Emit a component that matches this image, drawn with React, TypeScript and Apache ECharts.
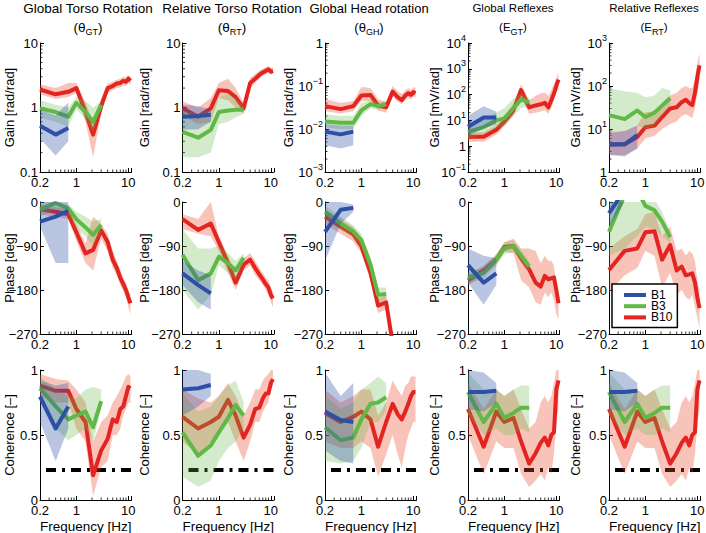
import React, { useEffect, useRef } from 'react';
import * as echarts from 'echarts';

const FONT = '"Liberation Sans", Arial, Helvetica, sans-serif';

// ---------- frequencies ----------
const F1 = [0.2, 0.4, 0.7];
const F3 = [0.2, 0.4, 0.7, 1.0, 1.5, 2.1, 3.0];
const F10 = [0.2, 0.4, 0.7, 1.0, 1.5, 2.1, 3.0, 4.0, 5.0, 6.0, 7.0, 8.0, 9.0, 10.0, 11.0];
const X_MIN = 0.2;
const X_MAX = 11.5;
const X_LABELS = [0.2, 1, 10];
const X_MINOR = [0.3, 0.4, 0.5, 0.6, 0.7, 0.8, 0.9, 2, 3, 4, 5, 6, 7, 8, 9];
const MINOR_MULT = [2, 3, 4, 5, 6, 7, 8, 9];

// ---------- titles / axes ----------
const COLUMN_TITLES = ['Global Torso Rotation', 'Relative Torso Rotation', 'Global Head rotation', 'Global Reflexes', 'Relative Reflexes'];
const COLUMN_SYMBOL = ['θ', 'θ', 'θ', 'E', 'E'];
const COLUMN_SUB = ['GT', 'RT', 'GH', 'GT', 'RT'];
const GAIN_NAMES = ['Gain [rad/rad]', 'Gain [rad/rad]', 'Gain [rad/rad]', 'Gain [mV/rad]', 'Gain [mV/rad]'];
const GAIN_MIN = [0.1, 0.1, 0.001, 0.1, 1];
const GAIN_MAX = [10, 10, 1, 10000, 1000];
const GAIN_DECIMAL = [true, true, false, false, false];
const PHASE_MIN = -270, PHASE_MAX = 0, PHASE_STEP = 90;
const COH_MIN = 0, COH_MAX = 1, COH_STEP = 0.5;
const COH_THRESHOLD = 0.23;
const GROUPS = ['B1', 'B3', 'B10'];

// ---------- Gain ----------
const gtGainB1 = [0.52, 0.38, 0.48];
const gtGainB1Lo = [0.33, 0.18, 0.3];
const gtGainB1Hi = [0.92, 0.75, 1.2];
const gtGainB3 = [0.97, 0.85, 0.72, 1.18, 0.85, 0.6, 1.1];
const gtGainB3Lo = [0.7, 0.6, 0.5, 0.95, 0.65, 0.42, 0.95];
const gtGainB3Hi = [1.3, 1.1, 1.0, 1.45, 1.25, 1.0, 1.25];
const gtGainB10 = [1.9, 1.6, 1.75, 2.0, 0.85, 0.38, 1.05, 2.0, 2.15, 2.35, 2.4, 2.6, 2.5, 2.8, 2.6];
const gtGainB10Lo = [1.6, 1.35, 1.45, 1.7, 0.6, 0.17, 0.8, 1.7, 1.85, 2.0, 2.05, 2.2, 2.15, 2.4, 2.25];
const gtGainB10Hi = [2.3, 2.0, 2.4, 2.4, 1.2, 0.6, 1.4, 2.35, 2.5, 2.7, 2.8, 3.0, 2.9, 3.2, 3.0];

const rtGainB1 = [0.72, 0.74, 0.77];
const rtGainB1Lo = [0.45, 0.46, 0.6];
const rtGainB1Hi = [1.1, 1.05, 0.92];
const rtGainB3 = [0.42, 0.34, 0.45, 0.85, 0.9, 0.92, 0.92];
const rtGainB3Lo = [0.17, 0.17, 0.2, 0.55, 0.6, 0.7, 0.8];
const rtGainB3Hi = [0.9, 0.8, 0.9, 1.4, 1.7, 1.4, 1.05];
const rtGainB10 = [0.97, 0.72, 0.97, 1.85, 1.8, 1.45, 0.97, 2.4, 2.8, 3.2, 3.5, 3.7, 3.9, 3.6, 3.7];
const rtGainB10Lo = [0.75, 0.55, 0.6, 1.4, 1.3, 1.0, 0.8, 2.0, 2.4, 2.8, 3.1, 3.3, 3.4, 3.2, 3.3];
const rtGainB10Hi = [1.25, 1.0, 1.4, 2.4, 2.8, 2.0, 1.2, 2.9, 3.3, 3.7, 4.0, 4.2, 4.4, 4.1, 4.2];

const ghGainB1 = [0.0087, 0.0075, 0.0087];
const ghGainB1Lo = [0.0042, 0.0035, 0.0042];
const ghGainB1Hi = [0.013, 0.012, 0.012];
const ghGainB3 = [0.015, 0.014, 0.014, 0.027, 0.038, 0.034, 0.038];
const ghGainB3Lo = [0.011, 0.01, 0.01, 0.02, 0.03, 0.028, 0.032];
const ghGainB3Hi = [0.022, 0.02, 0.02, 0.04, 0.048, 0.042, 0.045];
const ghGainB10 = [0.034, 0.029, 0.034, 0.06, 0.062, 0.035, 0.032, 0.074, 0.055, 0.047, 0.06, 0.068, 0.062, 0.072, 0.068];
const ghGainB10Lo = [0.026, 0.023, 0.026, 0.045, 0.045, 0.027, 0.024, 0.058, 0.043, 0.037, 0.048, 0.054, 0.048, 0.057, 0.055];
const ghGainB10Hi = [0.05, 0.04, 0.045, 0.095, 0.09, 0.05, 0.042, 0.1, 0.075, 0.065, 0.08, 0.09, 0.08, 0.095, 0.09];

const egtGainB1 = [5.7, 13, 13];
const egtGainB1Lo = [2.5, 5, 7];
const egtGainB1Hi = [15, 35, 22];
const egtGainB3 = [3.6, 5.5, 10, 12, 30, 65, 50];
const egtGainB3Lo = [2, 3, 5, 6, 15, 30, 35];
const egtGainB3Hi = [7, 11, 20, 30, 70, 110, 70];
const egtGainB10 = [2.3, 2.3, 4.3, 9, 25, 150, 32, 38, 42, 48, 32, 60, 110, 220, 380];
const egtGainB10Lo = [1.5, 1.5, 2.8, 6, 15, 80, 18, 20, 22, 25, 18, 30, 60, 120, 160];
const egtGainB10Hi = [3.5, 3.5, 6.5, 15, 45, 250, 60, 90, 110, 120, 90, 150, 250, 450, 700];

const ertGainB1 = [4.4, 4.4, 7.2];
const ertGainB1Lo = [2.5, 2.3, 3.5];
const ertGainB1Hi = [8, 9, 12];
const ertGainB3 = [21, 17, 27, 19, 24, 35, 52];
const ertGainB3Lo = [9, 9, 12, 10, 12, 20, 35];
const ertGainB3Hi = [90, 75, 70, 55, 60, 90, 80];
const ertGainB10 = [4.3, 4.4, 6.5, 11, 12, 19, 30, 32, 42, 48, 40, 36, 70, 160, 300];
const ertGainB10Lo = [2.5, 2.5, 3.5, 6, 7, 10, 13, 15, 20, 22, 20, 18, 30, 70, 120];
const ertGainB10Hi = [9, 9, 12, 25, 25, 40, 60, 70, 90, 100, 90, 90, 150, 350, 600];

// ---------- Phase ----------
const gtPhaseB1 = [-40, -30, -18];
const gtPhaseB1Lo = [-50, -125, -125];
const gtPhaseB1Hi = [0, 0, 0];
const gtPhaseB3 = [-15, -2, -13, -35, -52, -67, -47];
const gtPhaseB3Lo = [-30, -15, -25, -55, -70, -90, -60];
const gtPhaseB3Hi = [0, 0, -5, -20, -30, -40, -35];
const gtPhaseB10 = [-15, -20, -25, -62, -105, -98, -58, -82, -118, -135, -155, -168, -180, -195, -207];
const gtPhaseB10Lo = [-25, -30, -35, -80, -125, -140, -75, -100, -135, -150, -170, -182, -195, -215, -230];
const gtPhaseB10Hi = [-5, -10, -15, -45, -85, -30, -45, -65, -100, -120, -140, -155, -165, -180, -190];

const rtPhaseB1 = [-146, -170, -187];
const rtPhaseB1Lo = [-170, -205, -220];
const rtPhaseB1Hi = [-120, -140, -150];
const rtPhaseB3 = [-108, -160, -146, -112, -125, -140, -114];
const rtPhaseB3Lo = [-180, -220, -190, -130, -145, -160, -125];
const rtPhaseB3Hi = [-55, -95, -95, -90, -105, -120, -105];
const rtPhaseB10 = [-35, -57, -44, -82, -125, -165, -128, -118, -135, -148, -158, -168, -175, -190, -197];
const rtPhaseB10Lo = [-55, -65, -70, -100, -145, -180, -140, -130, -150, -160, -170, -180, -190, -205, -215];
const rtPhaseB10Hi = [-25, -35, 0, -70, -110, -150, -115, -105, -120, -135, -145, -155, -160, -175, -185];

const ghPhaseB1 = [-61, -16, -12];
const ghPhaseB1Lo = [-120, -45, -20];
const ghPhaseB1Hi = [0, 0, -5];
const ghPhaseB3 = [-20, -44, -60, -78, -128, -190, -188];
const ghPhaseB3Lo = [-35, -58, -72, -92, -145, -205, -200];
const ghPhaseB3Hi = [-8, -30, -48, -65, -112, -175, -175];
const ghPhaseB10 = [-30, -50, -66, -90, -145, -212, -205, -290, -330, -360, -380, -400, -420, -440, -460];
const ghPhaseB10Lo = [-45, -65, -81, -105, -160, -227, -220, -305, -345, -375, -395, -415, -435, -455, -475];
const ghPhaseB10Hi = [-15, -35, -51, -75, -130, -197, -190, -275, -315, -345, -365, -385, -405, -425, -445];

const egtPhaseB1 = [-129, -165, -146];
const egtPhaseB1Lo = [-165, -210, -170];
const egtPhaseB1Hi = [-95, -110, -115];
const egtPhaseB3 = [-155, -145, -118, -95, -90, -110, -132];
const egtPhaseB3Lo = [-167, -157, -130, -107, -102, -122, -142];
const egtPhaseB3Hi = [-143, -133, -106, -83, -78, -98, -122];
const egtPhaseB10 = [-160, -140, -118, -92, -90, -115, -138, -165, -173, -151, -158, -156, -154, -180, -207];
const egtPhaseB10Lo = [-170, -150, -128, -102, -105, -160, -175, -205, -210, -185, -195, -185, -200, -230, -240];
const egtPhaseB10Hi = [-150, -130, -108, -82, -75, -95, -95, -100, -125, -110, -120, -120, -130, -170, -190];

const ertPhaseB1 = [-23, 24, 30];
const ertPhaseB1Lo = [-50, 0, 10];
const ertPhaseB1Hi = [20, 60, 70];
const ertPhaseB3 = [-61, 15, 25, -8, -17, -40, -72];
const ertPhaseB3Lo = [-110, -95, -70, -50, -55, -70, -85];
const ertPhaseB3Hi = [10, 40, 50, 20, 5, -20, -60];
const ertPhaseB10 = [-139, -100, -95, -62, -60, -118, -88, -140, -132, -150, -148, -146, -165, -195, -217];
const ertPhaseB10Lo = [-185, -150, -135, -100, -110, -175, -145, -190, -180, -195, -200, -190, -215, -235, -260];
const ertPhaseB10Hi = [-95, -70, -55, -25, -20, -70, -50, -100, -95, -110, -100, -105, -120, -160, -180];

// ---------- Coherence ----------
const gtCohB1 = [0.795, 0.55, 0.72];
const gtCohB1Lo = [0.6, 0.3, 0.55];
const gtCohB1Hi = [0.92, 0.88, 0.9];
const gtCohB3 = [0.86, 0.72, 0.62, 0.65, 0.68, 0.56, 0.76];
const gtCohB3Lo = [0.75, 0.55, 0.46, 0.5, 0.55, 0.45, 0.7];
const gtCohB3Hi = [0.95, 0.85, 0.8, 0.78, 0.85, 0.87, 0.85];
const gtCohB10 = [0.88, 0.84, 0.84, 0.7, 0.6, 0.19, 0.38, 0.47, 0.62, 0.6, 0.7, 0.72, 0.8, 0.87, 0.86];
const gtCohB10Lo = [0.8, 0.75, 0.75, 0.55, 0.45, 0.03, 0.25, 0.3, 0.5, 0.5, 0.55, 0.65, 0.7, 0.75, 0.75];
const gtCohB10Hi = [0.97, 0.93, 0.92, 0.85, 0.75, 0.45, 0.6, 0.65, 0.75, 0.8, 0.85, 0.9, 0.95, 0.97, 0.95];

const rtCohB1 = [0.85, 0.86, 0.885];
const rtCohB1Lo = [0.65, 0.72, 0.8];
const rtCohB1Hi = [1.0, 1.0, 0.97];
const rtCohB3 = [0.52, 0.34, 0.42, 0.52, 0.63, 0.73, 0.65];
const rtCohB3Lo = [0.18, 0.1, 0.15, 0.3, 0.4, 0.45, 0.55];
const rtCohB3Hi = [0.82, 0.68, 0.72, 0.8, 0.88, 0.92, 0.75];
const rtCohB10 = [0.64, 0.55, 0.6, 0.64, 0.77, 0.65, 0.48, 0.58, 0.7, 0.71, 0.78, 0.82, 0.82, 0.9, 0.93];
const rtCohB10Lo = [0.45, 0.35, 0.45, 0.5, 0.6, 0.45, 0.3, 0.45, 0.6, 0.6, 0.68, 0.72, 0.75, 0.85, 0.88];
const rtCohB10Hi = [0.85, 0.78, 0.75, 0.8, 0.9, 0.8, 0.65, 0.75, 0.85, 0.85, 0.92, 0.95, 0.97, 1.0, 1.0];

const ghCohB1 = [0.68, 0.615, 0.6];
const ghCohB1Lo = [0.38, 0.3, 0.28];
const ghCohB1Hi = [0.98, 0.8, 0.9];
const ghCohB3 = [0.56, 0.46, 0.48, 0.62, 0.74, 0.75, 0.79];
const ghCohB3Lo = [0.3, 0.28, 0.3, 0.4, 0.6, 0.6, 0.68];
const ghCohB3Hi = [0.8, 0.7, 0.75, 0.85, 0.9, 0.95, 0.9];
const ghCohB10 = [0.67, 0.6, 0.64, 0.68, 0.62, 0.41, 0.6, 0.74, 0.66, 0.62, 0.68, 0.74, 0.8, 0.83, 0.83];
const ghCohB10Lo = [0.45, 0.4, 0.4, 0.45, 0.4, 0.18, 0.35, 0.5, 0.35, 0.25, 0.4, 0.5, 0.55, 0.6, 0.6];
const ghCohB10Hi = [0.85, 0.75, 0.8, 0.85, 0.85, 0.65, 0.75, 0.92, 0.85, 0.8, 0.88, 0.9, 0.95, 0.95, 0.95];

const egtCohB1 = [0.83, 0.83, 0.84];
const egtCohB1Lo = [0.7, 0.68, 0.75];
const egtCohB1Hi = [1.0, 0.98, 0.9];
const egtCohB3 = [0.83, 0.6, 0.74, 0.63, 0.67, 0.71, 0.71];
const egtCohB3Lo = [0.65, 0.5, 0.55, 0.5, 0.5, 0.55, 0.52];
const egtCohB3Hi = [0.98, 0.85, 0.85, 0.8, 0.85, 0.88, 0.88];
const egtCohB10 = [0.7, 0.41, 0.68, 0.6, 0.63, 0.45, 0.28, 0.36, 0.44, 0.48, 0.42, 0.5, 0.52, 0.85, 0.92];
const egtCohB10Lo = [0.5, 0.2, 0.45, 0.4, 0.4, 0.2, 0.1, 0.15, 0.2, 0.15, 0.25, 0.2, 0.35, 0.6, 0.7];
const egtCohB10Hi = [0.9, 0.7, 0.85, 0.8, 0.85, 0.7, 0.55, 0.6, 0.75, 0.8, 0.75, 0.8, 0.9, 1.0, 1.0];

const ertCohB1 = [0.83, 0.83, 0.84];
const ertCohB1Lo = [0.7, 0.68, 0.75];
const ertCohB1Hi = [1.0, 0.98, 0.9];
const ertCohB3 = [0.83, 0.6, 0.74, 0.63, 0.67, 0.71, 0.71];
const ertCohB3Lo = [0.65, 0.5, 0.55, 0.5, 0.5, 0.55, 0.52];
const ertCohB3Hi = [0.98, 0.85, 0.85, 0.8, 0.85, 0.88, 0.88];
const ertCohB10 = [0.7, 0.41, 0.68, 0.6, 0.63, 0.45, 0.28, 0.36, 0.44, 0.48, 0.42, 0.5, 0.52, 0.85, 0.92];
const ertCohB10Lo = [0.5, 0.2, 0.45, 0.4, 0.4, 0.2, 0.1, 0.15, 0.2, 0.15, 0.25, 0.2, 0.35, 0.6, 0.7];
const ertCohB10Hi = [0.9, 0.7, 0.85, 0.8, 0.85, 0.7, 0.55, 0.6, 0.75, 0.8, 0.75, 0.8, 0.9, 1.0, 1.0];

// ---------- tables built from the arrays ----------
type Band = { x: number[]; m: number[]; lo: number[]; hi: number[] };
const trio = (b1: number[][], b3: number[][], b10: number[][]): Band[] => [
  { x: F1, m: b1[0], lo: b1[1], hi: b1[2] },
  { x: F3, m: b3[0], lo: b3[1], hi: b3[2] },
  { x: F10, m: b10[0], lo: b10[1], hi: b10[2] },
];
const TABLE: Band[][][] = [
  [
    trio([gtGainB1, gtGainB1Lo, gtGainB1Hi], [gtGainB3, gtGainB3Lo, gtGainB3Hi], [gtGainB10, gtGainB10Lo, gtGainB10Hi]),
    trio([rtGainB1, rtGainB1Lo, rtGainB1Hi], [rtGainB3, rtGainB3Lo, rtGainB3Hi], [rtGainB10, rtGainB10Lo, rtGainB10Hi]),
    trio([ghGainB1, ghGainB1Lo, ghGainB1Hi], [ghGainB3, ghGainB3Lo, ghGainB3Hi], [ghGainB10, ghGainB10Lo, ghGainB10Hi]),
    trio([egtGainB1, egtGainB1Lo, egtGainB1Hi], [egtGainB3, egtGainB3Lo, egtGainB3Hi], [egtGainB10, egtGainB10Lo, egtGainB10Hi]),
    trio([ertGainB1, ertGainB1Lo, ertGainB1Hi], [ertGainB3, ertGainB3Lo, ertGainB3Hi], [ertGainB10, ertGainB10Lo, ertGainB10Hi]),
  ],
  [
    trio([gtPhaseB1, gtPhaseB1Lo, gtPhaseB1Hi], [gtPhaseB3, gtPhaseB3Lo, gtPhaseB3Hi], [gtPhaseB10, gtPhaseB10Lo, gtPhaseB10Hi]),
    trio([rtPhaseB1, rtPhaseB1Lo, rtPhaseB1Hi], [rtPhaseB3, rtPhaseB3Lo, rtPhaseB3Hi], [rtPhaseB10, rtPhaseB10Lo, rtPhaseB10Hi]),
    trio([ghPhaseB1, ghPhaseB1Lo, ghPhaseB1Hi], [ghPhaseB3, ghPhaseB3Lo, ghPhaseB3Hi], [ghPhaseB10, ghPhaseB10Lo, ghPhaseB10Hi]),
    trio([egtPhaseB1, egtPhaseB1Lo, egtPhaseB1Hi], [egtPhaseB3, egtPhaseB3Lo, egtPhaseB3Hi], [egtPhaseB10, egtPhaseB10Lo, egtPhaseB10Hi]),
    trio([ertPhaseB1, ertPhaseB1Lo, ertPhaseB1Hi], [ertPhaseB3, ertPhaseB3Lo, ertPhaseB3Hi], [ertPhaseB10, ertPhaseB10Lo, ertPhaseB10Hi]),
  ],
  [
    trio([gtCohB1, gtCohB1Lo, gtCohB1Hi], [gtCohB3, gtCohB3Lo, gtCohB3Hi], [gtCohB10, gtCohB10Lo, gtCohB10Hi]),
    trio([rtCohB1, rtCohB1Lo, rtCohB1Hi], [rtCohB3, rtCohB3Lo, rtCohB3Hi], [rtCohB10, rtCohB10Lo, rtCohB10Hi]),
    trio([ghCohB1, ghCohB1Lo, ghCohB1Hi], [ghCohB3, ghCohB3Lo, ghCohB3Hi], [ghCohB10, ghCohB10Lo, ghCohB10Hi]),
    trio([egtCohB1, egtCohB1Lo, egtCohB1Hi], [egtCohB3, egtCohB3Lo, egtCohB3Hi], [egtCohB10, egtCohB10Lo, egtCohB10Hi]),
    trio([ertCohB1, ertCohB1Lo, ertCohB1Hi], [ertCohB3, ertCohB3Lo, ertCohB3Hi], [ertCohB10, ertCohB10Lo, ertCohB10Hi]),
  ],
];

// ---------- styling ----------
const LINE_COLORS = ['#2d4fa6', '#62b846', '#e32421'];
const BAND_COLORS = ['rgba(45,79,166,0.33)', 'rgba(98,184,70,0.28)', 'rgba(235,75,45,0.33)'];
const GRID_LEFT = [40, 182.5, 325, 468, 609];
const GRID_TOP = [43, 202, 370];
const GRID_HEIGHT = [129, 132, 130];
const GRID_WIDTH = 91.5;
const NAME_GAP = [24, 32, 30, 27, 27];
const TITLE_X = [88, 232, 369, 513, 654];
const TITLE_SIZE = [13.5, 13.5, 13, 11.5, 11.5];

const txt = { fontFamily: FONT, color: '#000', fontSize: 13 };

function gainLabel(v: number, decimal: boolean): string {
  const e = Math.round(Math.log10(v));
  if (decimal) return String(parseFloat(Math.pow(10, e).toPrecision(3)));
  if (e === 0) return '1';
  return `{b|10}{p|${e < 0 ? '\u2212' : ''}${Math.abs(e)}}`;
}

function buildOption() {
  const grid: any[] = [];
  const xAxis: any[] = [];
  const yAxis: any[] = [];
  const series: any[] = [];
  const graphics: any[] = [];

  for (let r = 0; r < 3; r++) {
    for (let c = 0; c < 5; c++) {
      const g = r * 5 + c;
      grid.push({ left: GRID_LEFT[c], top: GRID_TOP[r], width: GRID_WIDTH, height: GRID_HEIGHT[r], containLabel: false, outerBoundsMode: 'none' });
      xAxis.push({
        type: 'log', logBase: 10, gridIndex: g, min: X_MIN, max: X_MAX, splitNumber: 2,
        axisLine: { show: true, onZero: false, lineStyle: { color: '#000', width: 1 } },
        axisTick: { show: true, inside: true, length: 4, lineStyle: { color: '#000', width: 1 } },
        axisLabel: {
          show: true, margin: 4, ...txt, showMinLabel: true, showMaxLabel: true,
          formatter: (v: number) => {
            const hit = X_LABELS.find((t) => Math.abs(v - t) < 1e-6);
            return hit === undefined ? '' : String(hit);
          },
        },
        splitLine: { show: false },
        name: r === 2 ? 'Frequency [Hz]' : '', nameLocation: 'middle', nameGap: 19,
        nameTextStyle: { ...txt, fontSize: 13.5 }, nameMoveOverlap: false,
      });
      const yBase: any = {
        gridIndex: g,
        axisLine: { show: true, onZero: false, lineStyle: { color: '#000', width: 1 } },
        axisTick: { show: true, inside: true, length: 4, lineStyle: { color: '#000', width: 1 } },
        splitLine: { show: false },
        nameLocation: 'middle', nameGap: NAME_GAP[c], nameRotate: 90,
        nameTextStyle: { ...txt }, nameMoveOverlap: false,
      };
      let yMin = 0;
      if (r === 0) {
        yMin = GAIN_MIN[c];
        const dec = Math.round(Math.log10(GAIN_MAX[c] / GAIN_MIN[c]));
        yAxis.push({
          ...yBase, type: 'log', logBase: 10, min: GAIN_MIN[c], max: GAIN_MAX[c], splitNumber: dec,
          name: GAIN_NAMES[c],
          axisLabel: {
            margin: 2, ...txt, showMinLabel: true, showMaxLabel: true,
            formatter: (v: number) => gainLabel(v, GAIN_DECIMAL[c]),
            rich: {
              b: { fontFamily: FONT, color: '#000', fontSize: 13, lineHeight: 20 },
              p: { fontFamily: FONT, color: '#000', fontSize: 9, lineHeight: 11, verticalAlign: 'top' },
            },
          },
        });
      } else if (r === 1) {
        yMin = PHASE_MIN;
        yAxis.push({
          ...yBase, type: 'value', min: PHASE_MIN, max: PHASE_MAX, interval: PHASE_STEP,
          name: 'Phase [deg]',
          axisLabel: { margin: 2, ...txt, showMinLabel: true, showMaxLabel: true, formatter: (v: number) => (v === 0 ? '0' : '\u2212' + Math.abs(v)) },
        });
      } else {
        yMin = COH_MIN;
        yAxis.push({
          ...yBase, type: 'value', min: COH_MIN, max: COH_MAX, interval: COH_STEP,
          name: 'Coherence [\u2013]',
          axisLabel: { margin: 2, ...txt, showMinLabel: true, showMaxLabel: true, formatter: (v: number) => String(v) },
        });
      }

      // minor x ticks
      series.push({
        type: 'custom', xAxisIndex: g, yAxisIndex: g, silent: true, clip: false, z: 1,
        data: X_MINOR.map((v) => [v, yMin]),
        encode: { x: 0, y: 1 },
        renderItem: (params: any, api: any) => {
          const p = api.coord([api.value(0), api.value(1)]);
          const cs = params.coordSys;
          const yb = cs.y + cs.height;
          return { type: 'line', shape: { x1: p[0], y1: yb, x2: p[0], y2: yb - 2.5 }, style: { stroke: '#000', lineWidth: 0.8 } };
        },
      });
      // minor y ticks for log axes
      if (r === 0) {
        const vals: number[] = [];
        for (let d = GAIN_MIN[c]; d < GAIN_MAX[c] * 0.99; d *= 10) MINOR_MULT.forEach((m) => vals.push(d * m));
        series.push({
          type: 'custom', xAxisIndex: g, yAxisIndex: g, silent: true, clip: false, z: 1,
          data: vals.map((v) => [X_MIN, v]),
          encode: { x: 0, y: 1 },
          renderItem: (params: any, api: any) => {
            const p = api.coord([api.value(0), api.value(1)]);
            const cs = params.coordSys;
            return { type: 'line', shape: { x1: cs.x, y1: p[1], x2: cs.x + 2.5, y2: p[1] }, style: { stroke: '#000', lineWidth: 0.8 } };
          },
        });
      }
      // coherence threshold
      if (r === 2) {
        series.push({
          type: 'line', xAxisIndex: g, yAxisIndex: g, silent: true, symbol: 'none', showSymbol: false, z: 2,
          data: [[X_MIN, COH_THRESHOLD], [X_MAX, COH_THRESHOLD]],
          lineStyle: { color: '#000', width: 4, type: [10, 6, 3, 6], dashOffset: 19, cap: 'butt' },
          emphasis: { disabled: true },
        });
      }
      // bands and lines: B10 first, then B3, then B1
      const bands = TABLE[r][c];
      [2, 1, 0].forEach((k, order) => {
        const b = bands[k];
        const pts = b.x.map((x, i) => [x, b.lo[i], b.hi[i]]);
        series.push({
          type: 'custom', xAxisIndex: g, yAxisIndex: g, silent: true, clip: true, z: 3 + order * 2,
          data: pts,
          encode: { x: 0, y: [1, 2] },
          renderItem: (params: any, api: any) => {
            if (params.dataIndex !== 0) return null;
            const upper = pts.map((p) => api.coord([p[0], p[2]]));
            const lower = pts.map((p) => api.coord([p[0], p[1]])).reverse();
            return { type: 'polygon', shape: { points: upper.concat(lower) }, style: { fill: BAND_COLORS[k], stroke: null } };
          },
        });
        series.push({
          type: 'line', name: GROUPS[k], xAxisIndex: g, yAxisIndex: g, silent: true, clip: true,
          z: 4 + order * 2, symbol: 'none', showSymbol: false, color: LINE_COLORS[k],
          itemStyle: { color: LINE_COLORS[k] },
          lineStyle: { color: LINE_COLORS[k], width: 4, join: 'round', cap: 'butt' },
          data: b.x.map((x, i) => [x, b.m[i]]),
          emphasis: { disabled: true },
        });
      });
    }
  }

  for (let c = 0; c < 5; c++) {
    graphics.push({
      type: 'text', x: TITLE_X[c], y: 8, silent: true,
      style: { text: COLUMN_TITLES[c], fontFamily: FONT, fontSize: TITLE_SIZE[c], fill: '#000', align: 'center', verticalAlign: 'middle' },
    });
    graphics.push({
      type: 'text', x: TITLE_X[c], y: 27, silent: true,
      style: {
        text: `(${COLUMN_SYMBOL[c]}{s|${COLUMN_SUB[c]}})`,
        fontFamily: FONT, fontSize: TITLE_SIZE[c], fill: '#000', align: 'center', verticalAlign: 'middle', lineHeight: 18,
        rich: { s: { fontFamily: FONT, fontSize: 9, fill: '#000', verticalAlign: 'bottom', lineHeight: 12 } },
      },
    });
  }

  return {
    animation: false,
    backgroundColor: '#fff',
    grid, xAxis, yAxis, series,
    graphic: { elements: graphics },
    legend: {
      show: true, data: GROUPS, orient: 'vertical', left: 612, top: 284,
      icon: 'rect', itemWidth: 22, itemHeight: 4, itemGap: -0.8,
      borderColor: '#000', borderWidth: 1.5, backgroundColor: '#fff',
      padding: [5, 5, 4, 12], selectedMode: false, z: 20,
      textStyle: { ...txt, fontSize: 12 },
    },
    tooltip: { show: false },
  };
}

export default function App() {
  const ref = useRef<HTMLDivElement>(null);
  useEffect(() => {
    document.body.style.margin = '0';
    if (!ref.current) return;
    const chart = echarts.init(ref.current, null, { renderer: 'svg' });
    chart.setOption(buildOption() as any);
    return () => chart.dispose();
  }, []);
  return <div ref={ref} style={{ width: 706, height: 533, background: '#fff' }} />;
}
